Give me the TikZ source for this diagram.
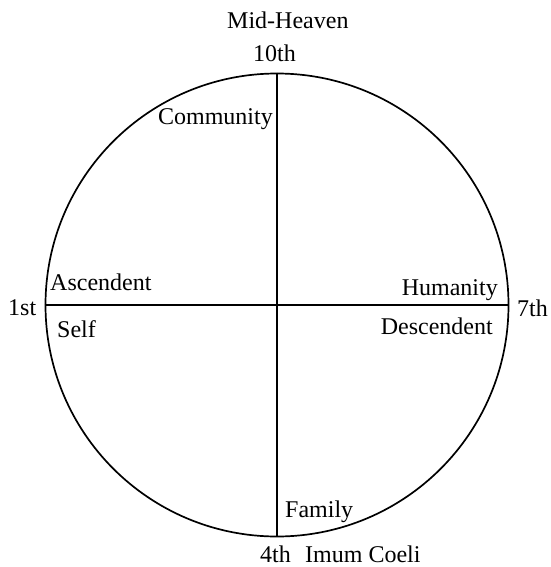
\documentclass[tikz,border=0pt]{standalone}
\usepackage{fontspec}
\setmainfont{Liberation Serif}
\usetikzlibrary{positioning}

\begin{document}
\begin{tikzpicture}[x=1bp,y=-1bp,font=\fontsize{24bp}{28bp}\selectfont,
  lbl/.style={inner sep=0pt,anchor=base west},
  lblr/.style={inner sep=0pt,anchor=base east}]
  \useasboundingbox (0,0) rectangle (551,567);
  \node[draw,circle,line width=1.7pt,minimum size=463bp,inner sep=0pt] (C) at (277,305) {};
  \draw[line width=1.2pt] (C.north)--(C.south);
  \draw[line width=1.2pt] (C.west)--(C.east);
  \node[lbl] (MH) at (227,29) {Mid-Heaven};
  \node[lbl] (H10) at (253,62) {10th};
  \node[lblr] (Com) at (273,125) {Community};
  \node[lbl] (H1) at (8,315) {1st};
  \node[lbl] (Asc) at (50,290) {Ascendent};
  \node[lbl] (Slf) at (57,337) {Self};
  \node[lblr] (Hum) at (498,295) {Humanity};
  \node[lblr] (Dsc) at (493,334) {Descendent};
  \node[lbl] (H7) at (517,316) {7th};
  \node[lbl] (Fam) at (285,517) {Family};
  \node[lbl] (H4) at (260,562) {4th};
  \node[lbl] (IC) at (305,562) {Imum Coeli};
\end{tikzpicture}
\end{document}
